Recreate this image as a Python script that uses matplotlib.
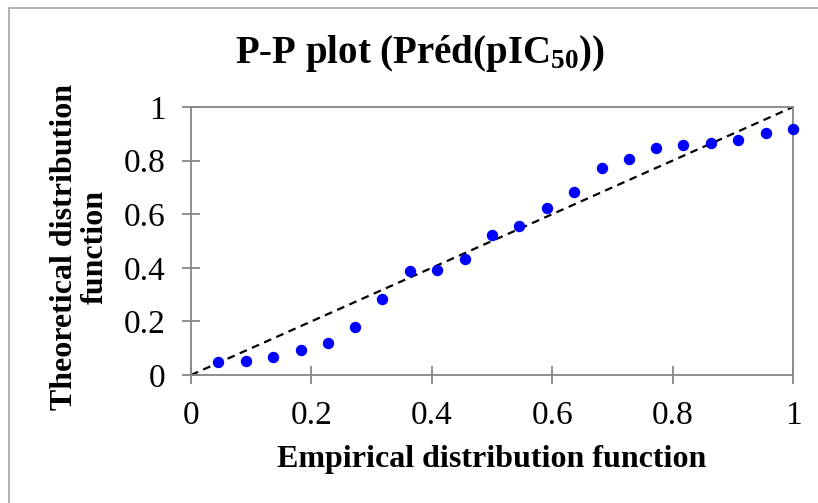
import matplotlib
matplotlib.use('Agg')
import matplotlib.pyplot as plt
from matplotlib.patches import Rectangle

# empirical distribution (i/22) and theoretical distribution values
empirical = [0.045, 0.091, 0.136, 0.182, 0.227, 0.273, 0.318, 0.364, 0.409, 0.455, 0.500,
             0.545, 0.591, 0.636, 0.682, 0.727, 0.773, 0.818, 0.864, 0.909, 0.955, 1.000]
theoretical = [0.047, 0.053, 0.068, 0.094, 0.121, 0.180, 0.284, 0.388, 0.391, 0.434, 0.522,
               0.557, 0.624, 0.684, 0.773, 0.805, 0.846, 0.858, 0.867, 0.876, 0.902, 0.918]
ref_line = [0, 1]
ticks = [0, 0.2, 0.4, 0.6, 0.8, 1]
tick_labels = ['0', '0.2', '0.4', '0.6', '0.8', '1']

plt.rcParams['font.family'] = 'Liberation Serif'
plt.rcParams['mathtext.fontset'] = 'custom'
plt.rcParams['mathtext.rm'] = 'Liberation Serif:bold'
plt.rcParams['mathtext.it'] = 'Liberation Serif:bold'
plt.rcParams['mathtext.bf'] = 'Liberation Serif:bold'

fig = plt.figure(figsize=(8.18, 5.03), dpi=100)
ax = fig.add_axes([191 / 818, 1 - 375 / 503, 602 / 818, 268 / 503])

# outer chart border (clipped at right and bottom like the source)
fig.patches.append(Rectangle((9 / 818, -0.1), 1.2, 1 - 8 / 503 + 0.1, transform=fig.transFigure,
                             fill=False, edgecolor='#a6a6a6', linewidth=1.2))

ax.plot(ref_line, ref_line, color='black', linestyle=(0, (3.5, 2.5)), linewidth=1.6, zorder=2)
ax.scatter(empirical, theoretical, s=52, color='#0000ff', zorder=3, clip_on=False)

ax.set_xlim(0, 1)
ax.set_ylim(0, 1)
ax.set_xticks(ticks)
ax.set_xticklabels(tick_labels)
ax.set_yticks(ticks)
ax.set_yticklabels(tick_labels)
for s in ax.spines.values():
    s.set_color('#868686')
    s.set_linewidth(1.3)
ax.tick_params(direction='inout', length=13, width=1.3, color='#868686', labelsize=24, pad=12)

fig.text(420 / 818, 1 - 53 / 503, r'P-P plot (Préd(pIC$_{50}$))', fontsize=28,
         fontweight='bold', ha='center', va='center')
fig.text(492 / 818, 1 - 460 / 503, 'Empirical distribution function', fontsize=23,
         fontweight='bold', ha='center', va='center')
fig.text(80 / 818, 1 - 247 / 503, 'Theoretical distribution\nfunction', fontsize=23,
         fontweight='bold', ha='center', va='center', rotation=90, multialignment='center',
         linespacing=1.05)

fig.savefig('out.png', dpi=100)
